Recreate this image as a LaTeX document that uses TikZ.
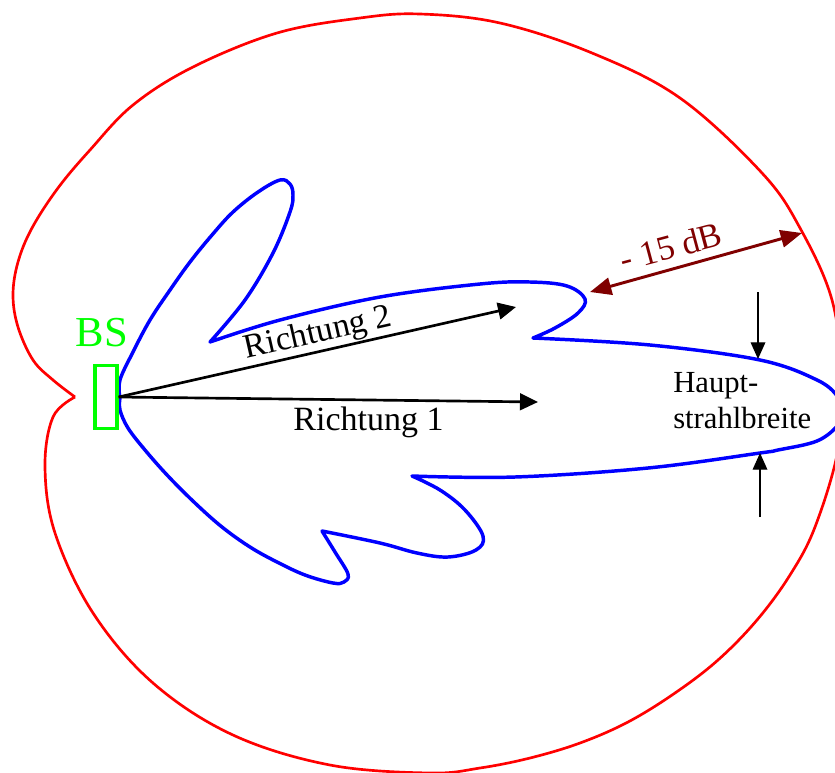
\documentclass[tikz,border=0pt]{standalone}
\usepackage{fontspec}
\setmainfont{Liberation Serif}
\usetikzlibrary{arrows.meta}
\definecolor{bsgreen}{RGB}{0,255,0}
\definecolor{dbred}{RGB}{128,0,0}
\definecolor{patred}{RGB}{255,0,0}
\definecolor{patblue}{RGB}{0,0,255}
\begin{document}
\begin{tikzpicture}[x=0.75pt,y=-0.75pt,
  redcurve/.style={draw=patred, line width=2pt, line join=round},
  bluecurve/.style={draw=patblue, line width=2.6pt, line join=round},
  bsbox/.style={draw=bsgreen, line width=2.4pt, minimum width=16.5pt, minimum height=47.6pt, inner sep=0pt},
  dirarrow/.style={draw=black, line width=2pt, -{Triangle[length=13.5pt,width=12.5pt]}},
  dbarrow/.style={draw=dbred, line width=2.2pt, {Triangle[length=16pt,width=13pt]}-{Triangle[length=16pt,width=13pt]}},
  thinarrow/.style={draw=black, line width=0.9pt, -{Triangle[length=12.5pt,width=11pt]}},
  biglbl/.style={inner sep=0pt, font=\fontsize{25.5}{30}\selectfont},
  smalllbl/.style={inner sep=0pt, font=\fontsize{23}{27}\selectfont}
]
\useasboundingbox (0,0) rectangle (835,772);
\begin{scope}
\clip (0,0) rectangle (835,772);
% red pattern
\draw[redcurve] plot[smooth, tension=0.6] coordinates {
 (75,397) (53,380) (33,360) (18,327) (13,295) (18,262) (32,228) (58,188) (90,150)
 (133,105) (193,67) (277,33) (360,18) (420,14) (500,23) (592,53) (680,98) (762,173)
 (800,228) (832,300) (842,380) (838,450) (815,527) (790,575) (757,620) (718,660)
 (675,693) (628,722) (580,743) (530,758) (480,768) (430,773) (330,765) (233,735)
 (153,683) (93,613) (55,533) (45,467) (53,417) (75,397)};
% blue pattern
\draw[bluecurve]
 plot[smooth, tension=0.6] coordinates {(120,398) (120,380) (133,352) (150,320) (170,290) (190,262) (212,235) (233,212) (258,192) (280,180) (290,184) (293,195) (290,212) (273,253) (245,300) (210,342)}
 -- plot[smooth, tension=0.6] coordinates {(210,342) (280,320) (380,297) (480,284) (530,282) (567,286) (585,299) (578,313) (555,328) (533,338)}
 -- plot[smooth, tension=0.6] coordinates {(533,338) (650,345) (760,360) (817,380) (838,397) (842,411) (838,425) (817,441) (778,450) (760,453) (648,468) (515,477) (412,476)}
 -- plot[smooth, tension=0.6] coordinates {(412,476) (440,490) (465,510) (483,536) (476,550) (448,557) (417,553) (380,543) (322,531)}
 -- plot[smooth, tension=0.6] coordinates {(322,531) (335,552) (348,574) (344,582) (333,583) (305,575) (277,562) (250,547) (222,527) (195,503) (168,476) (145,450) (128,428) (120,410) (120,398)};
\end{scope}
% base station
\node[bsbox] (bs) at (106,397) {};
\node[inner sep=0pt, anchor=base, text=bsgreen, font=\fontsize{32}{36}\selectfont] (bslabel) at (102,346) {BS};
% directions
\coordinate (r1end) at (538,402);
\coordinate (r2end) at (516,307);
\draw[dirarrow] (bs.east) -- (r1end);
\draw[dirarrow] (bs.east) -- (r2end);
\node[biglbl, anchor=base] (r1lbl) at (368.5,430) {Richtung 1};
\node[biglbl, anchor=base, rotate=12.8] (r2lbl) at (320,342) {Richtung 2};
% -15 dB
\coordinate (dbA) at (590,292);
\coordinate (dbB) at (802,233);
\draw[dbarrow] (dbA) -- (dbB);
\node[inner sep=0pt, anchor=base, rotate=15, text=dbred, font=\fontsize{26}{30}\selectfont] (dblbl) at (674,258) {- 15 dB};
% beam width
\coordinate (bwTopStart) at (758,292);
\coordinate (bwTopEnd) at (758,359);
\coordinate (bwBotStart) at (760,517);
\coordinate (bwBotEnd) at (760,453);
\draw[thinarrow] (bwTopStart) -- (bwTopEnd);
\draw[thinarrow] (bwBotStart) -- (bwBotEnd);
\node[smalllbl, anchor=base west] (haupt1) at (673,392) {Haupt-};
\node[smalllbl, anchor=base west] (haupt2) at (673,428) {strahlbreite};
\end{tikzpicture}
\end{document}
